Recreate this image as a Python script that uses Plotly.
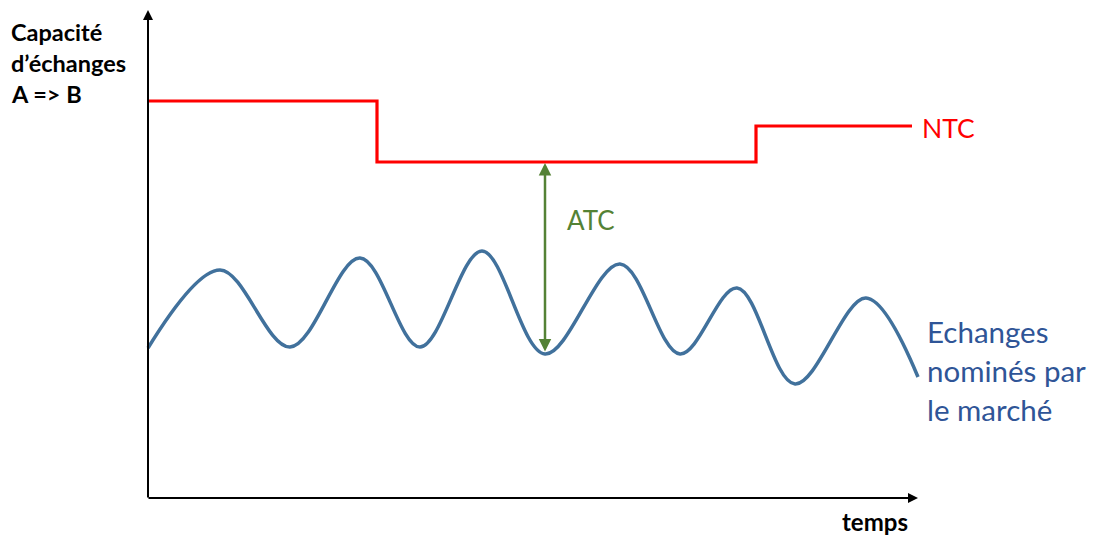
import plotly.graph_objects as go

# Data (in picture units: x to the right, y downward)
ntc_x = [148, 377, 377, 756, 756, 912]
ntc_y = [101, 101, 162, 162, 126, 126]

flux_x = [148, 220, 290, 360, 420, 482, 545, 620, 680, 737, 795, 866, 918]
flux_y = [348, 270, 347, 258, 347, 251, 354, 264, 354, 288, 384, 298, 377]

atc_x = 545
atc_top = 163
atc_bottom = 353

axis_origin = (148, 498)
axis_x_end = 918
axis_y_end = 10

ylabel_lines = ["Capacité", "d’échanges", "A => B"]
flux_label_lines = ["Echanges", "nominés par", "le marché"]

RED = "#FF0000"
BLUE = "#41719C"
BLUE_TXT = "#2F5597"
GREEN = "#548235"
FONT = "Lato"

fig = go.Figure()

fig.add_trace(go.Scatter(x=ntc_x, y=ntc_y, mode="lines",
                         line=dict(color=RED, width=3.2), hoverinfo="skip"))
fig.add_trace(go.Scatter(x=flux_x, y=flux_y, mode="lines",
                         line=dict(color=BLUE, width=3.5, shape="spline", smoothing=1.0),
                         hoverinfo="skip"))

ox, oy = axis_origin
# axes with arrows
fig.add_annotation(x=ox, y=axis_y_end, ax=ox, ay=oy + 1, xref="x", yref="y", axref="x", ayref="y",
                   showarrow=True, arrowhead=2, arrowsize=1, arrowwidth=2, arrowcolor="black", text="")
fig.add_annotation(x=axis_x_end, y=oy, ax=ox - 1, ay=oy, xref="x", yref="y", axref="x", ayref="y",
                   showarrow=True, arrowhead=2, arrowsize=1, arrowwidth=2, arrowcolor="black", text="")
# ATC double arrow
fig.add_annotation(x=atc_x, y=atc_top, ax=atc_x, ay=atc_bottom, xref="x", yref="y", axref="x", ayref="y",
                   showarrow=True, arrowhead=2, startarrowhead=2, arrowside="end+start",
                   arrowsize=1, startarrowsize=1, arrowwidth=2.5, arrowcolor=GREEN, text="")

# texts
for i, t in enumerate(ylabel_lines):
    fig.add_annotation(x=9, y=32 + i * 31, xref="x", yref="y", text="<b>" + t + "</b>",
                       showarrow=False, xanchor="left", yanchor="middle",
                       font=dict(family=FONT, size=23.5, color="black"))
for i, t in enumerate(flux_label_lines):
    fig.add_annotation(x=925, y=331 + i * 39, xref="x", yref="y", text=t,
                       showarrow=False, xanchor="left", yanchor="middle",
                       font=dict(family=FONT, size=29.5, color=BLUE_TXT))
fig.add_annotation(x=920, y=128, xref="x", yref="y", text="NTC", showarrow=False,
                   xanchor="left", yanchor="middle", font=dict(family=FONT, size=26.5, color=RED))
fig.add_annotation(x=565, y=220, xref="x", yref="y", text="ATC", showarrow=False,
                   xanchor="left", yanchor="middle", font=dict(family=FONT, size=26, color=GREEN))
fig.add_annotation(x=910, y=521, xref="x", yref="y", text="<b>temps</b>", showarrow=False,
                   xanchor="right", yanchor="middle", font=dict(family=FONT, size=24, color="black"))

# the page puts the figure 8 px in from its top-left corner
fig.update_layout(
    width=1094, height=529, margin=dict(l=0, r=0, t=0, b=0),
    paper_bgcolor="white", plot_bgcolor="white", showlegend=False,
    xaxis=dict(range=[8, 1102], visible=False, fixedrange=True),
    yaxis=dict(range=[537, 8], visible=False, fixedrange=True),
)

fig.write_html("out.html")
